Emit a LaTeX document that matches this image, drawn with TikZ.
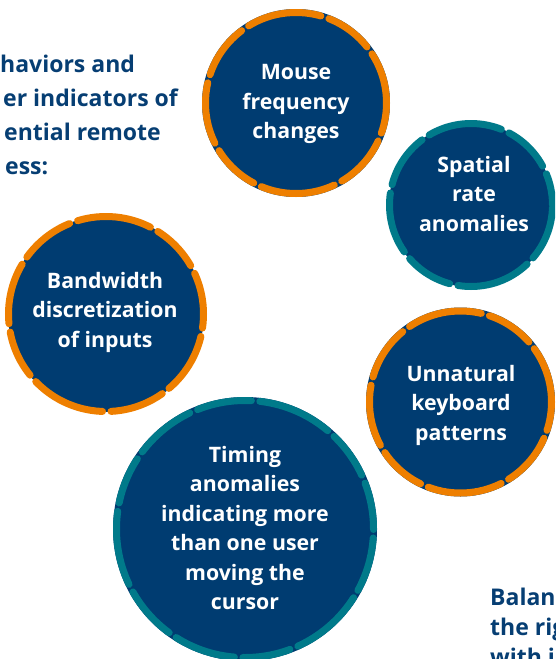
\documentclass[tikz,border=0pt]{standalone}
\usepackage{fontspec}
\setmainfont{Open Sans}
\definecolor{navy}{RGB}{0,60,113}
\definecolor{ringorange}{RGB}{238,127,0}
\definecolor{ringteal}{RGB}{0,122,138}
\definecolor{headnavy}{RGB}{6,62,115}
\begin{document}
\begin{tikzpicture}[x=1pt,y=-1pt,
  disk/.style={circle, fill=navy, inner sep=0pt, minimum size=#1},
  rim/.style={draw=#1, line width=7pt, line cap=round,
    dash pattern=on 62pt off 8.5pt on 48pt off 8.5pt on 75pt off 8.5pt on 55pt off 8.5pt},
  ctext/.style={text=white, align=center, inner sep=0pt,
    font=\fontsize{21.3}{29.5}\selectfont\bfseries},
  htext/.style={text=headnavy, inner sep=0pt, anchor=base west,
    font=\fontsize{23}{34}\selectfont\bfseries}]
\useasboundingbox (0,0) rectangle (555,659);
\clip (0,0) rectangle (555,659);

% Mouse
\node[disk=188pt] (mouse) at (296,103) {};
\draw[rim=ringorange, dash phase=10pt] (mouse.center) circle[radius=90.5pt];
\node[ctext] (mouset) at (296,104) {Mouse\\frequency\\changes};

% Spatial
\node[disk=164pt] (spatial) at (471,205) {};
\draw[rim=ringteal, dash phase=30pt] (spatial.center) circle[radius=81.5pt];
\node[ctext] (spatialt) at (474,194) {Spatial\\rate\\anomalies};

% Bandwidth
\node[disk=196pt] (band) at (106,314) {};
\draw[rim=ringorange, dash phase=20pt] (band.center) circle[radius=97.5pt];
\node[ctext] (bandt) at (105,312) {Bandwidth\\discretization\\of inputs};

% Unnatural
\node[disk=189pt] (unnat) at (460.5,402) {};
\draw[rim=ringorange, dash phase=5pt] (unnat.center) circle[radius=91pt];
\node[ctext] (unnatt) at (461,405) {Unnatural\\keyboard\\patterns};

% Timing
\node[disk=264pt] (timing) at (245,529) {};
\draw[rim=ringteal, dash phase=15pt] (timing.center) circle[radius=128.5pt];
\node[ctext] (timingt) at (245,528) {Timing\\anomalies\\indicating more\\than one user\\moving the\\cursor};

% heading (clipped at left)
\node[htext] (h1) at (0,72) {haviors and};
\node[htext] (h2) at (3,106) {er indicators of};
\node[htext] (h3) at (4,140) {ential remote};
\node[htext] (h4) at (5,174) {ess:};

% bottom right text (clipped)
\node[htext] (b1) at (490,605) {Balanc};
\node[htext] (b2) at (490,635) {the rig};
\node[htext] (b3) at (490,665) {with i};
\end{tikzpicture}
\end{document}
